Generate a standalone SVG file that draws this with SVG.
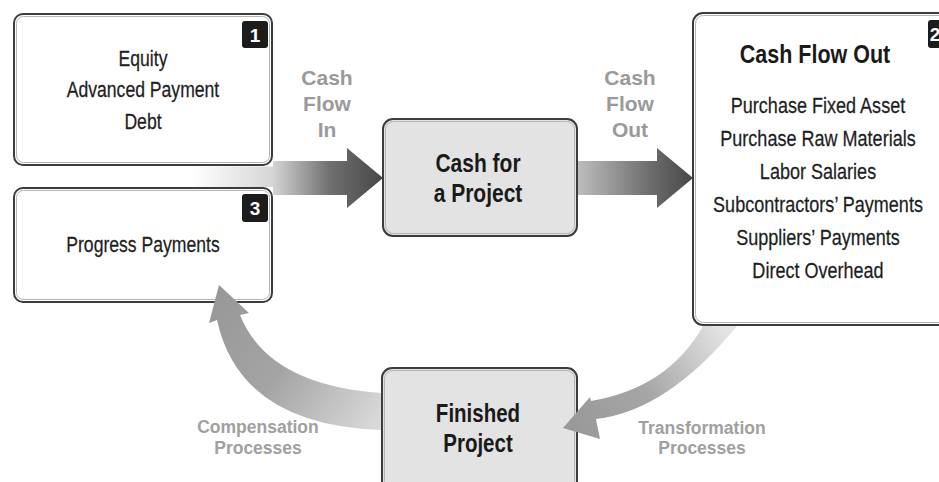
<svg xmlns="http://www.w3.org/2000/svg" width="939" height="482" viewBox="0 0 939 482">
  <defs>
    <style>
      .box { fill: #ffffff; stroke: #3c3c3c; stroke-width: 2; }
      .boxg { fill: #e3e3e3; stroke: #3c3c3c; stroke-width: 2; }
      .bevel { fill: none; stroke: #b4b4b4; stroke-width: 1; }
      .badge { fill: #1c1c1c; }
      .num { font-family: "Liberation Sans", Arial, sans-serif; font-weight: bold; font-size: 19px; fill: #ffffff; text-anchor: middle; }
      .item { font-family: "Liberation Sans", Arial, sans-serif; font-size: 22px; fill: #1e1e1e; text-anchor: middle; stroke: #1e1e1e; stroke-width: 0.25; }
      .title { font-family: "Liberation Sans", Arial, sans-serif; font-weight: bold; font-size: 25px; fill: #1a1a1a; text-anchor: middle; }
      .flow { font-family: "Liberation Sans", Arial, sans-serif; font-weight: bold; font-size: 21px; fill: #9a9a9a; text-anchor: middle; }
      .proc { font-family: "Liberation Sans", Arial, sans-serif; font-weight: bold; font-size: 17.5px; fill: #a0a0a0; text-anchor: middle; }
    </style>
    <linearGradient id="gIn" gradientUnits="userSpaceOnUse" x1="192" y1="0" x2="383" y2="0">
      <stop offset="0" stop-color="#ffffff"/>
      <stop offset="0.42" stop-color="#d6d6d6"/>
      <stop offset="0.72" stop-color="#707070"/>
      <stop offset="1" stop-color="#474747"/>
    </linearGradient>
    <linearGradient id="gOut" gradientUnits="userSpaceOnUse" x1="578" y1="0" x2="693" y2="0">
      <stop offset="0" stop-color="#bdbdbd"/>
      <stop offset="0.65" stop-color="#6a6a6a"/>
      <stop offset="1" stop-color="#484848"/>
    </linearGradient>
    <linearGradient id="gComp" gradientUnits="userSpaceOnUse" x1="382" y1="412" x2="222" y2="300">
      <stop offset="0" stop-color="#d8d8d8"/>
      <stop offset="0.55" stop-color="#a4a4a4"/>
      <stop offset="1" stop-color="#999999"/>
    </linearGradient>
    <linearGradient id="gTrans" gradientUnits="userSpaceOnUse" x1="722" y1="327" x2="572" y2="425">
      <stop offset="0" stop-color="#e4e4e4"/>
      <stop offset="0.55" stop-color="#a6a6a6"/>
      <stop offset="1" stop-color="#999999"/>
    </linearGradient>
  </defs>

  <rect width="939" height="482" fill="#ffffff"/>

  <!-- 1: sources of cash -->
  <g id="sources">
    <rect class="box" x="14" y="14" width="258" height="151" rx="9"/>
    <rect class="bevel" x="16.5" y="16.5" width="253" height="146" rx="7"/>
    <rect class="badge" x="242" y="21" width="26" height="27" rx="3"/>
    <text class="num" x="255" y="42">1</text>
    <g transform="translate(143,0) scale(0.8,1)">
      <text class="item" x="0" y="66">Equity</text>
      <text class="item" x="0" y="97">Advanced Payment</text>
      <text class="item" x="0" y="129">Debt</text>
    </g>
  </g>

  <!-- 3: progress payments -->
  <g id="progress">
    <rect class="box" x="14" y="188" width="258" height="114" rx="9"/>
    <rect class="bevel" x="16.5" y="190.5" width="253" height="109" rx="7"/>
    <rect class="badge" x="242" y="194" width="26" height="28" rx="3"/>
    <text class="num" x="255" y="215">3</text>
    <g transform="translate(143,0) scale(0.8,1)">
      <text class="item" x="0" y="252">Progress Payments</text>
    </g>
  </g>

  <!-- central cash pool -->
  <g id="cash-project">
    <rect class="boxg" x="383" y="119" width="194" height="117" rx="10"/>
    <rect class="bevel" x="385.5" y="121.5" width="189" height="112" rx="8"/>
    <g transform="translate(478,0) scale(0.84,1)">
      <text class="title" x="0" y="172">Cash for</text>
      <text class="title" x="0" y="202">a Project</text>
    </g>
  </g>

  <!-- 2: uses of cash -->
  <g id="outflow">
    <rect class="box" x="693" y="13" width="260" height="312" rx="10"/>
    <rect class="bevel" x="695.5" y="15.5" width="255" height="307" rx="8"/>
    <rect class="badge" x="928" y="20" width="26" height="28" rx="3"/>
    <text class="num" x="935" y="41">2</text>
    <g transform="translate(815,0) scale(0.86,1)">
      <text class="title" x="0" y="63">Cash Flow Out</text>
    </g>
    <g transform="translate(818,0) scale(0.82,1)">
      <text class="item" x="0" y="113">Purchase Fixed Asset</text>
      <text class="item" x="0" y="146">Purchase Raw Materials</text>
      <text class="item" x="0" y="179">Labor Salaries</text>
      <text class="item" x="0" y="212">Subcontractors’ Payments</text>
      <text class="item" x="0" y="245">Suppliers’ Payments</text>
      <text class="item" x="0" y="278">Direct Overhead</text>
    </g>
  </g>

  <!-- finished project -->
  <g id="finished">
    <rect class="boxg" x="382" y="368" width="195" height="124" rx="10"/>
    <rect class="bevel" x="384.5" y="370.5" width="190" height="119" rx="8"/>
    <g transform="translate(478,0) scale(0.82,1)">
      <text class="title" x="0" y="422">Finished</text>
      <text class="title" x="0" y="452">Project</text>
    </g>
  </g>

  <!-- flows between nodes -->
  <g id="connectors">
    <!-- cash flow in -->
    <polygon fill="url(#gIn)" points="192,166.5 273,166.5 273,161 347,161 347,148 383,178 347,208 347,195 273,195 273,187 192,187"/>
    <!-- cash flow out -->
    <polygon fill="url(#gOut)" points="578,161 657,161 657,148 693,178 657,208 657,195 578,195"/>
    <!-- compensation: finished project back to progress payments -->
    <path fill="url(#gComp)" d="M381,393 Q268,385 240,315 L249,313 L219,285 L209,323 L217,320 Q240,425 381,430 Z"/>
    <!-- transformation: outflow into finished project -->
    <path fill="url(#gTrans)" d="M703,326 Q668,388 591,401 L590,397 L563,428 L600,439 L596,419 Q667,411 737,326 Z"/>
    <text class="flow" x="327" y="85">Cash</text>
    <text class="flow" x="327" y="111">Flow</text>
    <text class="flow" x="327" y="137">In</text>
    <text class="flow" x="630" y="85">Cash</text>
    <text class="flow" x="630" y="111">Flow</text>
    <text class="flow" x="630" y="137">Out</text>
    <text class="proc" x="258" y="433">Compensation</text>
    <text class="proc" x="258" y="454">Processes</text>
    <text class="proc" x="702" y="434">Transformation</text>
    <text class="proc" x="702" y="454">Processes</text>
  </g>
</svg>
